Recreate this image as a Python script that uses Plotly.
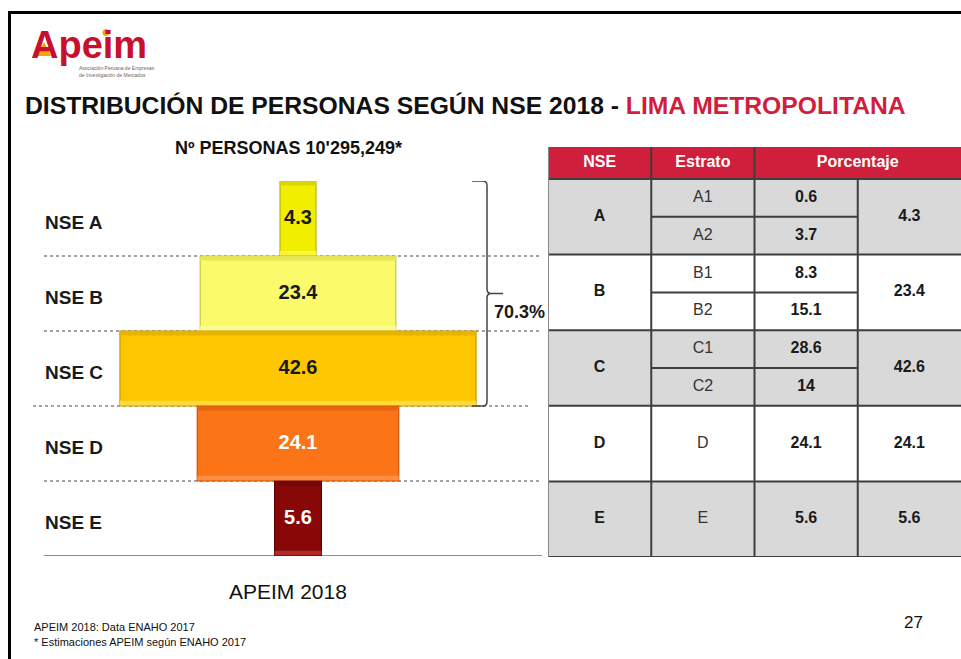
import plotly.graph_objects as go

W, H = 961, 659

# ---------------- data ----------------
nse_labels = ["NSE A", "NSE B", "NSE C", "NSE D", "NSE E"]
nse_values = [4.3, 23.4, 42.6, 24.1, 5.6]

table_headers = ["NSE", "Estrato", "Porcentaje"]
table_nse = ["A", "B", "C", "D", "E"]
table_estratos = [["A1", "A2"], ["B1", "B2"], ["C1", "C2"], ["D"], ["E"]]
table_estrato_pct = [[0.6, 3.7], [8.3, 15.1], [28.6, 14], [24.1], [5.6]]
table_nse_pct = [4.3, 23.4, 42.6, 24.1, 5.6]

title_black = "DISTRIBUCIÓN DE PERSONAS SEGÚN NSE 2018 - "
title_red = "LIMA METROPOLITANA"
subtitle = "Nº PERSONAS 10'295,249*"
source_label = "APEIM 2018"
footnotes = ["APEIM 2018: Data ENAHO 2017", "* Estimaciones APEIM según ENAHO 2017"]
page_number = "27"

# ---------------- styles ----------------
bar_colors = ["#f2ee00", "#fafa6a", "#fdc600", "#fb7418", "#880808"]
bar_edge = ["#b9b300", "#c9c740", "#c99a00", "#c2540b", "#5a0303"]
bevel_light = ["#f8f53a", "#fcfc90", "#ffda3a", "#ff8e45", "#b02a2a"]
bevel_dark = ["#dcd600", "#e8e658", "#e9b400", "#e6640f", "#720606"]
text_colors = ["#1a1a1a", "#1a1a1a", "#1a1a1a", "#ffffff", "#ffffff"]
RED = "#d01f3d"
FONT = "Liberation Sans, Arial, sans-serif"


def PX(x):
    return x / W


def PY(y):
    return 1 - y / H


# pyramid scale (px per unit) and centre
S = 8.36
CX = 298.0

fig = go.Figure()

ypos = list(range(len(nse_values)))
bases = [-v / 2 for v in nse_values]

fig.add_trace(go.Bar(
    y=ypos, x=nse_values, base=bases, orientation="h", width=1.0,
    marker=dict(color=bar_colors, line=dict(color=bar_edge, width=1.2)),
    hoverinfo="skip", showlegend=False,
))
# bevel strips
fig.add_trace(go.Bar(
    y=ypos, x=nse_values, base=bases, orientation="h", width=0.06, offset=0.43,
    marker=dict(color=bevel_light, line=dict(width=0)),
    hoverinfo="skip", showlegend=False,
))
fig.add_trace(go.Bar(
    y=ypos, x=nse_values, base=bases, orientation="h", width=0.05, offset=-0.49,
    marker=dict(color=bevel_dark, line=dict(width=0)),
    hoverinfo="skip", showlegend=False,
))
# values in bars
fig.add_trace(go.Scatter(
    x=[0] * len(nse_values), y=ypos, mode="text",
    text=[f"{v}" for v in nse_values],
    textfont=dict(family=FONT, size=20, color=text_colors, weight="bold"),
    hoverinfo="skip", showlegend=False, cliponaxis=False,
))

shapes = []
annotations = []

# row separators
for i in range(len(nse_values) - 1):
    x0, x1 = (33, 528) if i == 2 else (44, 540)
    shapes.append(dict(type="line", xref="paper", yref="y", x0=PX(x0), x1=PX(x1),
                       y0=i + 0.5, y1=i + 0.5, layer="below",
                       line=dict(color="#a3a3a3", width=2, dash="dot")))
shapes.append(dict(type="line", xref="paper", yref="y", x0=PX(44), x1=PX(542),
                   y0=len(nse_values) - 0.5, y1=len(nse_values) - 0.5, layer="below",
                   line=dict(color="#8c8c8c", width=2)))

# row labels
for i, lab in enumerate(nse_labels):
    annotations.append(dict(xref="paper", yref="y", x=PX(43), y=i, yshift=-4,
                            text=lab, showarrow=False, xanchor="left", yanchor="middle",
                            font=dict(family=FONT, size=19, color="#1a1a1a", weight="bold")))

# brace over A..C


def dx(px):
    return (px - CX) / S


top, mid, bot = -0.5, 1.0, 2.5
r = 0.06
brace = (f"M {dx(472)},{top} L {dx(483)},{top} Q {dx(487)},{top} {dx(487)},{top + r} "
         f"L {dx(487)},{mid - r} Q {dx(487)},{mid} {dx(491)},{mid} L {dx(503)},{mid} "
         f"M {dx(491)},{mid} Q {dx(487)},{mid} {dx(487)},{mid + r} "
         f"L {dx(487)},{bot - r} Q {dx(487)},{bot} {dx(483)},{bot} L {dx(472)},{bot}")
shapes.append(dict(type="path", xref="x", yref="y", path=brace,
                   line=dict(color="#444444", width=1.5)))
share = sum(nse_values[:3])
annotations.append(dict(xref="x", yref="y", x=dx(519), y=1.25, text=f"{share:.1f}%",
                        showarrow=False, xanchor="center", yanchor="middle",
                        font=dict(family=FONT, size=18, color="#1a1a1a", weight="bold")))

# ---------------- table ----------------
HDR = 32 / 37.8
ng = len(table_nse)
row_fills = ["#d9d9d9", "#ffffff"]
GRID = "#3e3e3e"

shapes.append(dict(type="rect", xref="x2", yref="y2", x0=0, x1=4, y0=-HDR, y1=0,
                   fillcolor=RED, line=dict(width=0), layer="below"))
for i in range(ng):
    shapes.append(dict(type="rect", xref="x2", yref="y2", x0=0, x1=4, y0=2 * i, y1=2 * i + 2,
                       fillcolor=row_fills[i % 2], line=dict(width=0), layer="below"))

tx, ty, tt, tw = [], [], [], []
for i in range(ng):
    ests = table_estratos[i]
    pcts = table_estrato_pct[i]
    n = len(ests)
    for k in range(1, n):
        yy = 2 * i + 2 * k / n
        shapes.append(dict(type="line", xref="x2", yref="y2", x0=1, x1=3, y0=yy, y1=yy,
                           line=dict(color=GRID, width=2)))
    tx.append(0.5); ty.append(2 * i + 1); tt.append(table_nse[i]); tw.append("bold")
    for k in range(n):
        yc = 2 * i + (2 * k + 1) / n
        tx.append(1.5); ty.append(yc); tt.append(ests[k]); tw.append("normal")
        tx.append(2.5); ty.append(yc); tt.append(f"{pcts[k]:g}"); tw.append("bold")
    tx.append(3.5); ty.append(2 * i + 1); tt.append(f"{table_nse_pct[i]:g}"); tw.append("bold")

for i in range(ng + 1):
    shapes.append(dict(type="line", xref="x2", yref="y2", x0=0, x1=4, y0=2 * i, y1=2 * i,
                       line=dict(color=GRID, width=2)))
for xv in (1, 2, 3):
    shapes.append(dict(type="line", xref="x2", yref="y2", x0=xv, x1=xv, y0=0, y1=2 * ng,
                       line=dict(color=GRID, width=2)))
for xv in (1, 2):
    shapes.append(dict(type="line", xref="x2", yref="y2", x0=xv, x1=xv, y0=-HDR, y1=0,
                       line=dict(color=GRID, width=2)))
shapes.append(dict(type="line", xref="x2", yref="y2", x0=0, x1=0, y0=-HDR, y1=2 * ng,
                   line=dict(color="#8a8a8a", width=2)))

bold_idx = [j for j, w in enumerate(tw) if w == "bold"]
norm_idx = [j for j, w in enumerate(tw) if w != "bold"]
fig.add_trace(go.Scatter(
    x=[tx[j] for j in bold_idx], y=[ty[j] for j in bold_idx], mode="text",
    text=[tt[j] for j in bold_idx], xaxis="x2", yaxis="y2",
    textfont=dict(family=FONT, size=16, color="#1a1a1a", weight="bold"),
    hoverinfo="skip", showlegend=False, cliponaxis=False,
))
fig.add_trace(go.Scatter(
    x=[tx[j] for j in norm_idx], y=[ty[j] for j in norm_idx], mode="text",
    text=[tt[j] for j in norm_idx], xaxis="x2", yaxis="y2",
    textfont=dict(family=FONT, size=16, color="#333333"),
    hoverinfo="skip", showlegend=False, cliponaxis=False,
))
hdr_x = [0.5, 1.5, 3.0]
fig.add_trace(go.Scatter(
    x=hdr_x, y=[-HDR / 2] * 3, mode="text", text=table_headers, xaxis="x2", yaxis="y2",
    textfont=dict(family=FONT, size=16, color="#ffffff", weight="bold"),
    hoverinfo="skip", showlegend=False, cliponaxis=False,
))

# ---------------- slide decorations ----------------
shapes.append(dict(type="line", xref="paper", yref="paper", x0=PX(8), x1=1.0,
                   y0=PY(12.5), y1=PY(12.5), line=dict(color="#000000", width=3)))
shapes.append(dict(type="line", xref="paper", yref="paper", x0=PX(9.5), x1=PX(9.5),
                   y0=PY(11), y1=0, line=dict(color="#000000", width=3)))

annotations.append(dict(xref="paper", yref="paper", x=PX(29), y=PY(45), text="Apeim",
                        showarrow=False, xanchor="left", yanchor="middle",
                        font=dict(family=FONT, size=38, color="#c8102e", weight="bold")))
# logo accents (orange chevron in the A and dot of the i)
shapes.append(dict(type="path", xref="paper", yref="paper",
                   path=f"M {PX(37)},{PY(56)} L {PX(44)},{PY(42)} L {PX(51)},{PY(56)} Z",
                   fillcolor="#f5a300", line=dict(width=0)))
shapes.append(dict(type="circle", xref="paper", yref="paper",
                   x0=PX(102.5), x1=PX(109.5), y0=PY(29), y1=PY(36),
                   fillcolor="#f5a300", line=dict(width=0)))
annotations.append(dict(xref="paper", yref="paper", x=PX(77), y=PY(71),
                        text="Asociación Peruana de Empresas<br>de Investigación de Mercados",
                        showarrow=False, xanchor="left", yanchor="middle", align="left",
                        font=dict(family=FONT, size=5, color="#666666")))

annotations.append(dict(xref="paper", yref="paper", x=PX(23), y=PY(105),
                        text=f"{title_black}<span style='color:{RED}'>{title_red}</span>",
                        showarrow=False, xanchor="left", yanchor="middle",
                        font=dict(family=FONT, size=24.7, color="#111111", weight="bold")))
annotations.append(dict(xref="paper", yref="paper", x=PX(288), y=PY(148), text=subtitle,
                        showarrow=False, xanchor="center", yanchor="middle",
                        font=dict(family=FONT, size=18, color="#111111", weight="bold")))
annotations.append(dict(xref="paper", yref="paper", x=PX(288), y=PY(591), text=source_label,
                        showarrow=False, xanchor="center", yanchor="middle",
                        font=dict(family=FONT, size=21, color="#111111")))
for k, fn in enumerate(footnotes):
    annotations.append(dict(xref="paper", yref="paper", x=PX(32), y=PY(627 + 15 * k), text=fn,
                            showarrow=False, xanchor="left", yanchor="middle",
                            font=dict(family=FONT, size=11, color="#111111")))
annotations.append(dict(xref="paper", yref="paper", x=PX(913), y=PY(622), text=page_number,
                        showarrow=False, xanchor="center", yanchor="middle",
                        font=dict(family=FONT, size=17, color="#111111")))

fig.update_layout(
    width=W, height=H, autosize=False,
    margin=dict(l=0, r=0, t=0, b=0),
    paper_bgcolor="#ffffff", plot_bgcolor="rgba(0,0,0,0)",
    barmode="overlay", showlegend=False,
    xaxis=dict(domain=[0, 1], range=[-CX / S, (W - CX) / S], visible=False, fixedrange=True),
    yaxis=dict(domain=[PY(556), PY(181)], range=[len(nse_values) - 0.5, -0.5],
               visible=False, fixedrange=True),
    xaxis2=dict(domain=[PX(548), 1], range=[0, 4], visible=False, fixedrange=True,
                anchor="y2"),
    yaxis2=dict(domain=[PY(557), PY(147)], range=[2 * ng, -HDR], visible=False,
                fixedrange=True, anchor="x2"),
    shapes=shapes, annotations=annotations,
)

fig.write_html("out.html", config={"displayModeBar": False, "staticPlot": True},
               post_script="document.body.style.margin='0';document.body.style.overflow='hidden';")
